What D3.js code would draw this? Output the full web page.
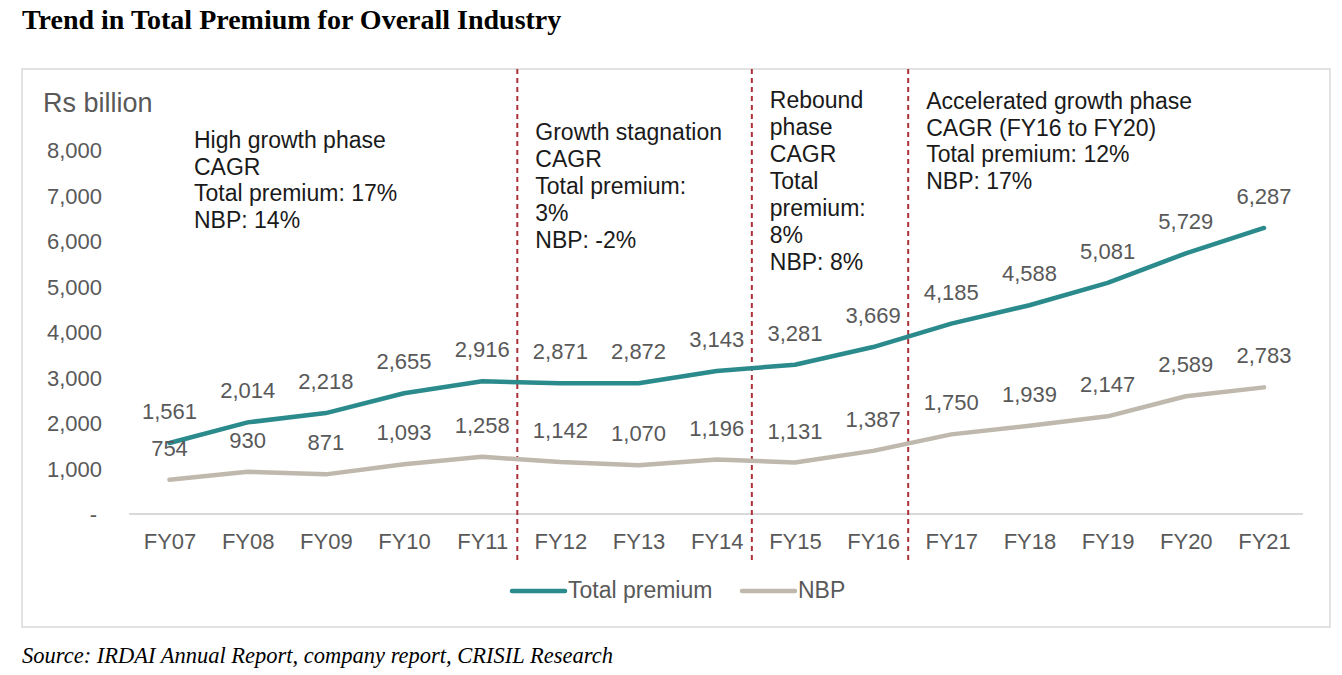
<!DOCTYPE html>
<html><head><meta charset="utf-8">
<script src="https://cdn.jsdelivr.net/npm/d3@7"></script>
<style>
body{margin:0;background:#fff;}
svg{display:block;}
</style></head><body>
<svg id="chart" width="1342" height="675"></svg>
<script>
const categories = ["FY07","FY08","FY09","FY10","FY11","FY12","FY13","FY14","FY15","FY16","FY17","FY18","FY19","FY20","FY21"];
const totalPremium = [1561,2014,2218,2655,2916,2871,2872,3143,3281,3669,4185,4588,5081,5729,6287];
const nbp = [754,930,871,1093,1258,1142,1070,1196,1131,1387,1750,1939,2147,2589,2783];
const yTicks = [0,1000,2000,3000,4000,5000,6000,7000,8000];
const seriesNames = ["Total premium","NBP"];
const phaseBreaks = [["FY11","FY12"],["FY14","FY15"],["FY16","FY17"]];
const phaseNotes = [
  {lines:["High growth phase","CAGR","Total premium: 17%","NBP: 14%"]},
  {lines:["Growth stagnation","CAGR","Total premium:","3%","NBP: -2%"]},
  {lines:["Rebound","phase","CAGR","Total","premium:","8%","NBP: 8%"]},
  {lines:["Accelerated growth phase","CAGR (FY16 to FY20)","Total premium: 12%","NBP: 17%"]}
];

const svg = d3.select("#chart");
const font = "'Liberation Sans', Arial, sans-serif";
const gray = "#595959";
const teal = "#2A8A8C";
const beige = "#BFB8AD";

svg.append("text").attr("x",22).attr("y",29)
  .attr("font-family","'Liberation Serif','Times New Roman',serif").attr("font-weight","bold")
  .attr("font-size",28).attr("fill","#000").text("Trend in Total Premium for Overall Industry");

svg.append("rect").attr("x",22).attr("y",69).attr("width",1308).attr("height",558)
  .attr("fill","#fff").attr("stroke","#d9d9d9").attr("stroke-width",1.5);

const x = d3.scalePoint().domain(categories).range([169.5,1264]);
const y = d3.scaleLinear().domain([0,8000]).range([514,150]);

// y axis labels
const yAxis = d3.axisLeft(y).tickValues(yTicks).tickSize(0).tickPadding(0)
  .tickFormat(d => d===0 ? "-" : d3.format(",")(d));
const gy = svg.append("g").attr("transform","translate(102,0)").call(yAxis);
gy.select(".domain").remove();
gy.selectAll("text").attr("font-family",font).attr("font-size",22).attr("fill",gray).attr("dy","0.35em");
gy.selectAll(".tick").filter(d=>d===0).select("text").attr("transform","translate(-5,0)");

svg.append("text").attr("x",43).attr("y",112).attr("font-family",font).attr("font-size",27)
  .attr("fill",gray).text("Rs billion");

// baseline
svg.append("line").attr("x1",129).attr("x2",1303).attr("y1",y(0)).attr("y2",y(0))
  .attr("stroke","#d9d9d9").attr("stroke-width",2);

// x axis
const xAxis = d3.axisBottom(x).tickSize(0).tickPadding(0);
const gx = svg.append("g").attr("transform","translate(0,549)").call(xAxis);
gx.select(".domain").remove();
gx.selectAll("text").attr("font-family",font).attr("font-size",22).attr("fill",gray).attr("dy",0);

// dashed phase lines
const breakX = b => (x(b[0]) + x(b[1]))/2 - 4;
svg.selectAll(".brk").data(phaseBreaks).enter().append("line")
  .attr("x1",breakX).attr("x2",breakX).attr("y1",69).attr("y2",563)
  .attr("stroke","#AC3038").attr("stroke-width",2).attr("stroke-dasharray","5,4");

// lines
const line = d3.line().x((d,i)=>x(categories[i])).y(d=>y(d));
svg.append("path").datum(nbp).attr("d",line).attr("fill","none").attr("stroke",beige)
  .attr("stroke-width",4.5).attr("stroke-linecap","round").attr("stroke-linejoin","round");
svg.append("path").datum(totalPremium).attr("d",line).attr("fill","none").attr("stroke",teal)
  .attr("stroke-width",4.5).attr("stroke-linecap","round").attr("stroke-linejoin","round");

// data labels
[totalPremium, nbp].forEach(arr => {
  svg.selectAll(null).data(arr).enter().append("text")
    .attr("x",(d,i)=>x(categories[i])).attr("y",d=>y(d)-24)
    .attr("text-anchor","middle").attr("font-family",font).attr("font-size",22)
    .attr("fill",gray).text(d=>d3.format(",")(d));
});

// phase notes
const noteTop = [148, 140, 108, 109];
const noteStep = [26.5, 27, 27, 26.5];
phaseNotes.forEach((n,k) => {
  let nx;
  if (k===0) nx = 194;
  else { const b = phaseBreaks[k-1]; nx = breakX(b) + 18; }
  const t = svg.append("text").attr("font-family",font).attr("font-size",23).attr("fill","#1a1a1a");
  n.lines.forEach((s,j)=>{
    t.append("tspan").attr("x",nx).attr("y",noteTop[k]+j*noteStep[k]).text(s);
  });
});

// legend
const legend = [[seriesNames[0],teal,512],[seriesNames[1],beige,742]];
legend.forEach(([name,col,lx])=>{
  svg.append("line").attr("x1",lx).attr("x2",lx+53).attr("y1",591).attr("y2",591)
    .attr("stroke",col).attr("stroke-width",4.5).attr("stroke-linecap","round");
  svg.append("text").attr("x",lx+56).attr("y",598).attr("font-family",font).attr("font-size",23)
    .attr("fill",gray).text(name);
});

svg.append("text").attr("x",22).attr("y",663)
  .attr("font-family","'Liberation Serif','Times New Roman',serif").attr("font-style","italic")
  .attr("font-size",22.5).attr("fill","#000").text("Source: IRDAI Annual Report, company report, CRISIL Research");
</script>
</body></html>
